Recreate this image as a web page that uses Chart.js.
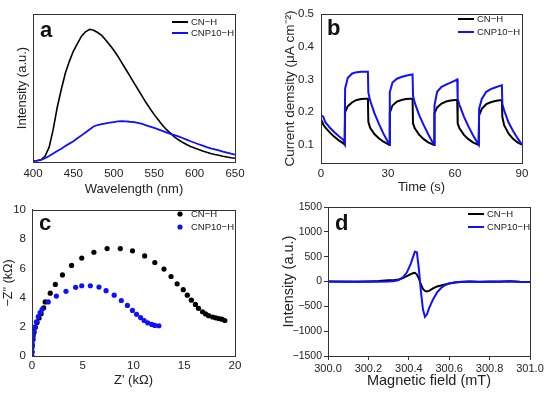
<!DOCTYPE html>
<html>
<head>
<meta charset="utf-8">
<script src="https://cdn.jsdelivr.net/npm/chart.js@4.4.1/dist/chart.umd.min.js"></script>
<style>
body{margin:0;background:#fff;width:550px;height:395px;position:relative;overflow:hidden}
.box{position:absolute}
</style>
</head>
<body>
<div class="box" style="left:0;top:0;width:275px;height:197px"><canvas id="chartA"></canvas></div>
<div class="box" style="left:275px;top:0;width:275px;height:197px"><canvas id="chartB"></canvas></div>
<div class="box" style="left:0;top:197px;width:275px;height:198px"><canvas id="chartC"></canvas></div>
<div class="box" style="left:275px;top:197px;width:275px;height:198px"><canvas id="chartD"></canvas></div>
<script>
/*----data a: PL spectra----*/
const wavelength = [400,405,410,415,420,425,430,435,440,445,450,455,460,465,470,475,480,485,490,495,500,505,510,515,520,525,530,535,540,545,550,555,560,565,570,575,580,585,590,595,600,605,610,615,620,625,630,635,640,645,650];
const plCN = [0.7,0.8,1.5,4,10,22,37,49,60,68,75,80,85,88,89.7,89,87.5,85.5,82.5,79,75.5,71.5,67,62.5,58,53.5,49,44.5,40,36,32,28.5,25,22,19.5,17,15,13.3,11.8,10.5,9.4,8.4,7.4,6.6,5.8,5.1,4.5,3.9,3.4,2.9,2.5];
const plCNP = [0.7,0.9,1.5,2.5,4,5.8,7.4,9,10.8,12.4,14,16,18,20,22,24,25,25.6,26.1,26.6,27,27.4,27.6,27.5,27.2,27,26.5,25.7,24.8,23.9,23,22,21,20,19,18.2,17.3,16.2,15.1,14,13,12,11,10,9.2,8.5,7.8,7,6.3,5.6,5];

/*----data b: photocurrent----*/
const timeB = [0,1,2,4,6,8,10,10.6,
  10.8,12,14,16,18,20,21, 21.2,22,24,26,28,30,30.6,
  30.8,32,34,36,38,40,41, 41.2,42,44,46,48,50,50.6,
  50.8,52,54,56,58,60,61, 61.2,62,64,66,68,70,70.6,
  70.8,72,74,76,78,80,81, 81.2,82,84,86,88,90];
const curCN = [0.178,0.162,0.152,0.137,0.124,0.113,0.104,0.100,
  0.2,0.218,0.23,0.237,0.24,0.241,0.241, 0.17,0.152,0.132,0.119,0.109,0.102,0.099,
  0.198,0.22,0.232,0.237,0.24,0.241,0.241, 0.165,0.15,0.13,0.117,0.107,0.101,0.099,
  0.196,0.214,0.226,0.232,0.235,0.237,0.237, 0.165,0.15,0.13,0.117,0.107,0.101,0.099,
  0.19,0.21,0.224,0.23,0.234,0.236,0.236, 0.185,0.16,0.134,0.118,0.107,0.1];
const curCNP = [0.19,0.186,0.168,0.152,0.138,0.126,0.115,0.104,
  0.272,0.305,0.318,0.322,0.323,0.323,0.323, 0.26,0.235,0.195,0.163,0.133,0.108,0.1,
  0.261,0.29,0.302,0.307,0.311,0.314,0.315, 0.25,0.228,0.19,0.16,0.132,0.107,0.1,
  0.22,0.262,0.277,0.284,0.29,0.296,0.3, 0.24,0.222,0.186,0.156,0.13,0.107,0.1,
  0.21,0.24,0.262,0.27,0.275,0.28,0.282, 0.225,0.205,0.168,0.142,0.12,0.1];
const ticksB = [0.1,0.2,0.3,0.4,0.5];

/*----data c: Nyquist----*/
const zReCN = [0,0.03,0.1,0.2,0.33,0.5,0.7,0.9,1.15,1.3,1.8,2.3,3.0,3.9,4.9,6.1,7.4,8.7,9.9,11.1,12.1,13.0,13.7,14.3,14.9,15.3,15.7,16.1,16.4,16.8,17.1,17.4,17.8,18.1,18.4,18.7,19.0];
const zImCN = [0.27,0.72,1.17,1.6,1.96,2.3,2.6,2.9,3.3,3.7,4.3,4.9,5.55,6.2,6.7,7.1,7.35,7.35,7.2,6.85,6.4,5.95,5.44,4.94,4.54,4.16,3.82,3.53,3.26,3.03,2.88,2.76,2.67,2.61,2.56,2.52,2.43];
const zReCNP = [0,0,0,0.03,0.07,0.13,0.2,0.3,0.43,0.62,0.8,1.0,1.6,2.4,3.35,4.3,4.9,5.75,6.6,7.3,8.1,8.8,9.4,9.9,10.3,10.7,11.05,11.4,11.8,12.1,12.5];
const zImCNP = [0,0.27,0.54,0.8,1.08,1.4,1.7,2.0,2.34,2.7,2.97,3.2,3.7,4.1,4.43,4.7,4.81,4.81,4.72,4.47,4.16,3.8,3.46,3.12,2.85,2.63,2.43,2.27,2.16,2.09,2.07];

/*----data d: EPR----*/
const field = [300.0,300.05,300.1,300.15,300.2,300.25,300.3,300.33,300.35,300.37,300.39,300.41,300.42,300.43,300.44,300.45,300.46,300.47,300.48,300.49,300.5,300.52,300.54,300.56,300.58,300.6,300.63,300.66,300.7,300.75,300.8,300.85,300.9,300.95,301.0];
const eprCN = [0,0,-5,0,0,10,25,30,40,70,110,150,165,175,140,60,-60,-150,-190,-200,-190,-140,-100,-80,-60,-40,-20,-10,0,-5,0,-5,5,-5,-10];
const eprCNP = [0,-5,0,-10,0,-5,0,10,30,80,180,360,480,600,590,250,-200,-560,-710,-660,-540,-360,-220,-130,-70,-40,-15,-5,0,-10,-5,0,5,-10,-10];

const FONT = "'Liberation Sans', Arial, sans-serif";
const TXT = "#222";
const BLUE = "#1010ff";

function pts(xs, ys){
  return xs.map((x,i) => ({x:x, y:ys[i]}));
}

/*----frame, letter and legend----*/
const deco = {
  id: 'deco',
  afterDraw(chart, args, o){
    const ctx = chart.ctx, a = chart.chartArea;
    ctx.save();
    ctx.strokeStyle = "#333";
    ctx.lineWidth = 1;
    ctx.strokeRect(Math.round(a.left)+0.5, Math.round(a.top)+0.5, Math.round(a.right-a.left), Math.round(a.bottom-a.top));
    ctx.fillStyle = "#111";
    ctx.font = "bold 22px " + FONT;
    ctx.textBaseline = "alphabetic";
    ctx.fillText(o.letter, o.lx, o.ly);
    ctx.font = "9.5px " + FONT;
    ctx.textBaseline = "middle";
    chart.data.datasets.forEach(function(ds, i){
      const y = o.legY + i*o.gap;
      if(o.marker == "dot"){
        ctx.fillStyle = ds.backgroundColor;
        ctx.beginPath();
        ctx.arc(o.legX+8, y, 2.6, 0, Math.PI*2);
        ctx.fill();
      } else {
        ctx.strokeStyle = ds.borderColor;
        ctx.lineWidth = 2;
        ctx.beginPath();
        ctx.moveTo(o.legX, y);
        ctx.lineTo(o.legX+16, y);
        ctx.stroke();
      }
      ctx.fillStyle = TXT;
      ctx.fillText(ds.label, o.legX+19, y+0.5);
    });
    ctx.restore();
  }
};

function axis(opt){
  const s = {
    type: 'linear',
    min: opt.min, max: opt.max,
    border: {display: true, color: "#333"},
    grid: {display: true, drawOnChartArea: false, drawTicks: !!opt.tick, tickLength: 4, color: "#333"},
    ticks: {color: TXT, font: {family: FONT, size: opt.tsize || 11.5}, padding: opt.pad, maxRotation: 0, display: opt.noLabels ? false : true},
    title: {display: true, text: opt.title, color: TXT, font: {family: FONT, size: opt.size || 13}, padding: opt.tpad},
    afterFit: function(sc){ if(opt.w) sc.width = opt.w; if(opt.h) sc.height = opt.h; }
  };
  if(opt.step) s.ticks.stepSize = opt.step;
  if(opt.list) s.afterBuildTicks = function(sc){ sc.ticks = opt.list.map(v => ({value:v})); };
  if(opt.cb) s.ticks.callback = opt.cb;
  return s;
}

function base(x, y, pad, deco_o){
  return {
    responsive: true,
    maintainAspectRatio: false,
    animation: false,
    layout: {padding: pad},
    plugins: {legend: {display: false}, tooltip: {enabled: false}, deco: deco_o},
    scales: {x: x, y: y}
  };
}

/*----a----*/
new Chart("chartA", {
  type: "line",
  data: {datasets: [
    {label: "CN\u2212H", data: pts(wavelength, plCN), borderColor: "#000", borderWidth: 1.6, pointRadius: 0, fill: false, order: 1},
    {label: "CNP10\u2212H", data: pts(wavelength, plCNP), borderColor: BLUE, borderWidth: 1.8, pointRadius: 0, fill: false, order: 0}
  ]},
  options: base(
    axis({min: 400, max: 650, step: 50, title: "Wavelength (nm)", pad: 5, h: 35, tpad: {top: 0, bottom: 0}}),
    axis({min: 0, max: 100, title: "Intensity (a.u.)", noLabels: true, w: 33, tpad: {top: 15, bottom: 0}}),
    {top: 14, right: 40, left: 0, bottom: 0},
    {letter: "a", lx: 40, ly: 37, legX: 172, legY: 22, gap: 11}
  ),
  plugins: [deco]
});

/*----b----*/
new Chart("chartB", {
  type: "line",
  data: {datasets: [
    {label: "CN\u2212H", data: pts(timeB, curCN), borderColor: "#000", borderWidth: 2, pointRadius: 0, fill: false, order: 1},
    {label: "CNP10\u2212H", data: pts(timeB, curCNP), borderColor: BLUE, borderWidth: 2, pointRadius: 0, fill: false, order: 0}
  ]},
  options: base(
    axis({min: 0, max: 90, step: 30, title: "Time (s)", pad: 4, h: 34, tpad: {top: 0, bottom: 2}}),
    axis({min: 0.044, max: 0.5, list: ticksB, title: "Current demsity (\u03bcA cm\u207b\u00b2)", pad: 7, w: 46, size: 13.5, tpad: {top: 7, bottom: 0}, cb: v => v.toFixed(1)}),
    {top: 14, right: 28, left: 0, bottom: 0},
    {letter: "b", lx: 52, ly: 35, legX: 183, legY: 19, gap: 13}
  ),
  plugins: [deco]
});

/*----c----*/
new Chart("chartC", {
  type: "scatter",
  data: {datasets: [
    {label: "CN\u2212H", data: pts(zReCN, zImCN), backgroundColor: "#000", borderColor: "#000", pointRadius: 2.6, borderWidth: 0, order: 1},
    {label: "CNP10\u2212H", data: pts(zReCNP, zImCNP), backgroundColor: BLUE, borderColor: BLUE, pointRadius: 2.6, borderWidth: 0, order: 0}
  ]},
  options: base(
    axis({min: 0, max: 20, step: 5, title: "Z' (k\u03a9)", pad: 3, h: 39, tpad: {top: 0, bottom: 7}}),
    axis({min: 0, max: 10, step: 2, title: "\u2212Z'' (k\u03a9)", pad: 6, w: 32, size: 12.5, tpad: {top: 1, bottom: 0}}),
    {top: 10, right: 40, left: 0, bottom: 0},
    {letter: "c", lx: 39, ly: 33, legX: 172, legY: 17, gap: 13, marker: "dot"}
  ),
  plugins: [deco]
});

/*----d----*/
new Chart("chartD", {
  type: "line",
  data: {datasets: [
    {label: "CN\u2212H", data: pts(field, eprCN), borderColor: "#000", borderWidth: 2, pointRadius: 0, fill: false, order: 1},
    {label: "CNP10\u2212H", data: pts(field, eprCNP), borderColor: BLUE, borderWidth: 2, pointRadius: 0, fill: false, order: 0}
  ]},
  options: base(
    axis({min: 300, max: 301, step: 0.2, title: "Magnetic field (mT)", pad: 2, tick: true, h: 39, size: 14.5, tsize: 11, tpad: {top: 0, bottom: 5}, cb: v => v.toFixed(1)}),
    axis({min: -1500, max: 1500, step: 500, title: "Intensity (a.u.)", pad: 2, tick: true, w: 53, size: 14.5, tsize: 10.5, tpad: {top: 5, bottom: 0}, cb: v => String(v).replace("-", "\u2212")}),
    {top: 10, right: 20, left: 0, bottom: 0},
    {letter: "d", lx: 60, ly: 33, legX: 193, legY: 17, gap: 13}
  ),
  plugins: [deco]
});
</script>
</body>
</html>
